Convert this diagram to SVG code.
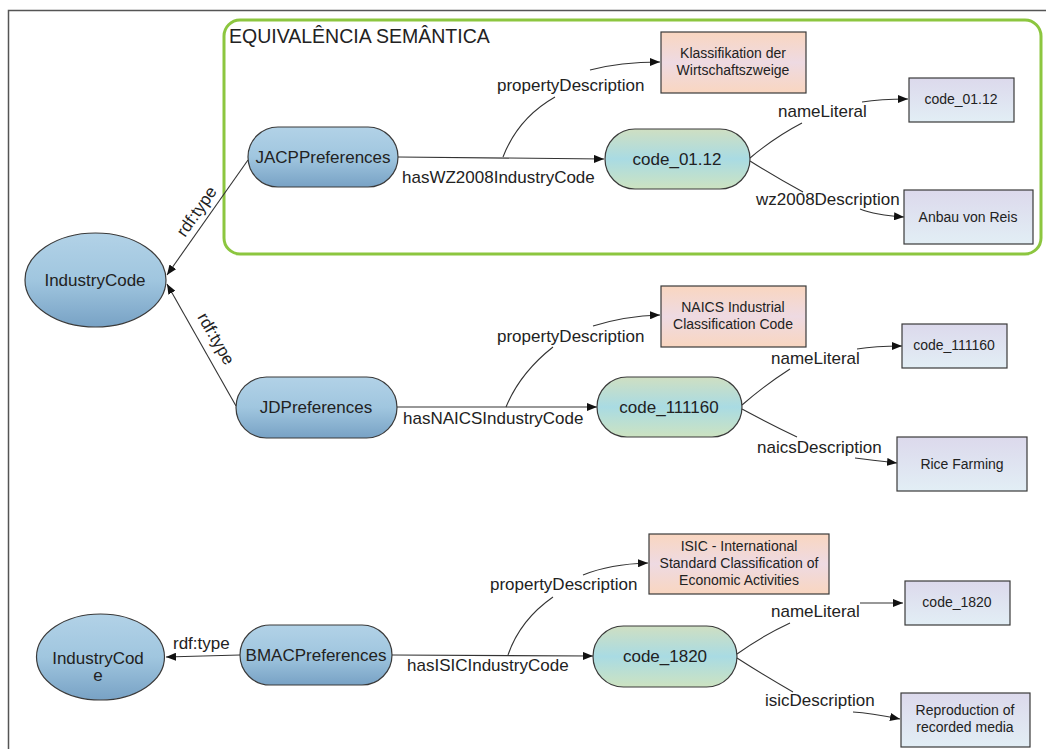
<svg xmlns="http://www.w3.org/2000/svg" width="1046" height="749" viewBox="0 0 1046 749">
<defs>
<linearGradient id="gBlue" x1="0" y1="0" x2="0" y2="1">
<stop offset="0" stop-color="#b2d2e7"/><stop offset="0.5" stop-color="#a0c6df"/><stop offset="1" stop-color="#78a2c5"/>
</linearGradient>
<linearGradient id="gTeal" x1="0" y1="0" x2="0" y2="1">
<stop offset="0" stop-color="#cfdfc2"/><stop offset="0.5" stop-color="#a9dbe3"/><stop offset="1" stop-color="#cde3c1"/>
</linearGradient>
<linearGradient id="gPeach" x1="0" y1="0" x2="0" y2="1">
<stop offset="0" stop-color="#f9d6c0"/><stop offset="0.5" stop-color="#eedae2"/><stop offset="1" stop-color="#f9d6c0"/>
</linearGradient>
<linearGradient id="gLit" x1="0" y1="0" x2="0" y2="1">
<stop offset="0" stop-color="#dcd9ec"/><stop offset="1" stop-color="#e2eef5"/>
</linearGradient>
<marker id="arr" markerUnits="userSpaceOnUse" markerWidth="10" markerHeight="8" refX="10" refY="4" orient="auto">
<path d="M0,0 L10,4 L0,8 z" fill="#111"/>
</marker>
<style>
.t{font-family:"Liberation Sans",Arial,sans-serif;fill:#222}
.n{font-size:17px;text-anchor:middle}
.b{font-size:14px;text-anchor:middle}
.l{font-size:17px}
.node{stroke:#3a3a3a;stroke-width:1.2}
.e{fill:none;stroke:#333;stroke-width:1.1}
.ea{fill:none;stroke:#333;stroke-width:1.1;marker-end:url(#arr)}
</style>
</defs>
<rect x="0" y="0" width="1046" height="749" fill="#fff"/>
<rect x="8.5" y="10.5" width="1100" height="800" fill="none" stroke="#555" stroke-width="1.5"/>
<g id="group-equivalencia">
<rect x="224" y="20" width="817" height="234" rx="16" fill="none" stroke="#8cc63f" stroke-width="3"/>
<text class="t" x="229" y="43" font-size="19.5">EQUIVALÊNCIA SEMÂNTICA</text>
</g>
<g id="connectors">
<path class="ea" d="M248,160 L167,275"/>
<path class="ea" d="M236,406 L167,284"/>
<path class="ea" d="M240,655 L166,657"/>
<path class="ea" d="M398,157 L604,159"/>
<path class="ea" d="M397,407 L597,407"/>
<path class="ea" d="M392,655 L593,656"/>
<path class="e" d="M503,157 Q518,118 555,97"/>
<path class="ea" d="M590,70 Q620,62 660,62"/>
<path class="e" d="M506,407 Q520,373 553,347"/>
<path class="ea" d="M593,326 Q625,316 660,315"/>
<path class="e" d="M508,655 Q520,620 553,597"/>
<path class="ea" d="M583,575 Q610,564 648,563"/>
<path class="e" d="M750,158 Q775,137 802,123"/>
<path class="ea" d="M862,102 Q880,99 908,99"/>
<path class="e" d="M750,161 Q777,178 803,192"/>
<path class="ea" d="M860,209 Q875,215 904,217"/>
<path class="e" d="M742,405 Q765,385 790,369"/>
<path class="ea" d="M857,349 Q875,346 902,346"/>
<path class="e" d="M742,409 Q770,424 797,437"/>
<path class="ea" d="M855,458 Q870,460 897,463"/>
<path class="e" d="M737,654 Q762,636 790,623"/>
<path class="ea" d="M860,603 L903,603"/>
<path class="e" d="M737,658 Q765,676 793,692"/>
<path class="ea" d="M853,712 Q870,713 900,719"/>
<text class="t l" transform="translate(185,238) rotate(-55)">rdf:type</text>
<text class="t l" transform="translate(197,317) rotate(60)">rdf:type</text>
<text class="t l" x="173" y="649">rdf:type</text>
<text class="t l" x="402" y="183">hasWZ2008IndustryCode</text>
<text class="t l" x="403" y="424">hasNAICSIndustryCode</text>
<text class="t l" x="407" y="671">hasISICIndustryCode</text>
<text class="t l" x="497" y="91">propertyDescription</text>
<text class="t l" x="497" y="342">propertyDescription</text>
<text class="t l" x="490" y="590">propertyDescription</text>
<text class="t l" x="778" y="117">nameLiteral</text>
<text class="t l" x="756" y="205">wz2008Description</text>
<text class="t l" x="771" y="364">nameLiteral</text>
<text class="t l" x="757" y="453">naicsDescription</text>
<text class="t l" x="771" y="617">nameLiteral</text>
<text class="t l" x="765" y="706">isicDescription</text>
</g>
<g id="industrycode-1">
<ellipse class="node" cx="95.5" cy="280" rx="70.5" ry="47" fill="url(#gBlue)"/>
<text class="t n" x="95" y="286">IndustryCode</text>
</g>
<g id="industrycode-2">
<ellipse class="node" cx="100.5" cy="657" rx="64" ry="43" fill="url(#gBlue)"/>
<text class="t n" x="98" y="664">IndustryCod</text>
<text class="t n" x="98" y="681">e</text>
</g>
<g id="jacp">
<rect class="node" x="248" y="127" width="150" height="60" rx="30" fill="url(#gBlue)"/>
<text class="t n" x="323" y="163">JACPPreferences</text>
</g>
<g id="jd">
<rect class="node" x="236" y="377" width="161" height="61" rx="30.5" fill="url(#gBlue)"/>
<text class="t n" x="316" y="413">JDPreferences</text>
</g>
<g id="bmac">
<rect class="node" x="240" y="625" width="152" height="60" rx="30" fill="url(#gBlue)"/>
<text class="t n" x="316" y="661">BMACPreferences</text>
</g>
<g id="code0112">
<rect class="node" x="605" y="129" width="145" height="60" rx="30" fill="url(#gTeal)"/>
<text class="t n" x="677" y="165">code_01.12</text>
</g>
<g id="code111160">
<rect class="node" x="597" y="377" width="145" height="60" rx="30" fill="url(#gTeal)"/>
<text class="t n" x="669" y="413">code_111160</text>
</g>
<g id="code1820">
<rect class="node" x="593" y="626" width="144" height="61" rx="30.5" fill="url(#gTeal)"/>
<text class="t n" x="665" y="662">code_1820</text>
</g>
<g id="klassifikation">
<rect class="node" x="661" y="32" width="145" height="61" fill="url(#gPeach)"/>
<text class="t b" x="733" y="58">Klassifikation der</text>
<text class="t b" x="733" y="75">Wirtschaftszweige</text>
</g>
<g id="naics">
<rect class="node" x="661" y="286" width="145" height="61" fill="url(#gPeach)"/>
<text class="t b" x="733" y="312">NAICS Industrial</text>
<text class="t b" x="733" y="329">Classification Code</text>
</g>
<g id="isic">
<rect class="node" x="649" y="534" width="180" height="60" fill="url(#gPeach)"/>
<text class="t b" x="739" y="551">ISIC - International</text>
<text class="t b" x="739" y="568">Standard Classification of</text>
<text class="t b" x="739" y="585">Economic Activities</text>
</g>
<g id="lit-code0112">
<rect class="node" x="909" y="78" width="105" height="44" fill="url(#gLit)"/>
<text class="t b" x="961" y="104">code_01.12</text>
</g>
<g id="lit-anbau">
<rect class="node" x="904" y="190" width="129" height="54" fill="url(#gLit)"/>
<text class="t b" x="968" y="222">Anbau von Reis</text>
</g>
<g id="lit-code111160">
<rect class="node" x="902" y="324" width="105" height="44" fill="url(#gLit)"/>
<text class="t b" x="954" y="350">code_111160</text>
</g>
<g id="lit-rice">
<rect class="node" x="897" y="437" width="130" height="54" fill="url(#gLit)"/>
<text class="t b" x="962" y="469">Rice Farming</text>
</g>
<g id="lit-code1820">
<rect class="node" x="905" y="581" width="105" height="44" fill="url(#gLit)"/>
<text class="t b" x="957" y="607">code_1820</text>
</g>
<g id="lit-reproduction">
<rect class="node" x="901" y="693" width="129" height="54" fill="url(#gLit)"/>
<text class="t b" x="965" y="715">Reproduction of</text>
<text class="t b" x="965" y="732">recorded media</text>
</g>
</svg>
